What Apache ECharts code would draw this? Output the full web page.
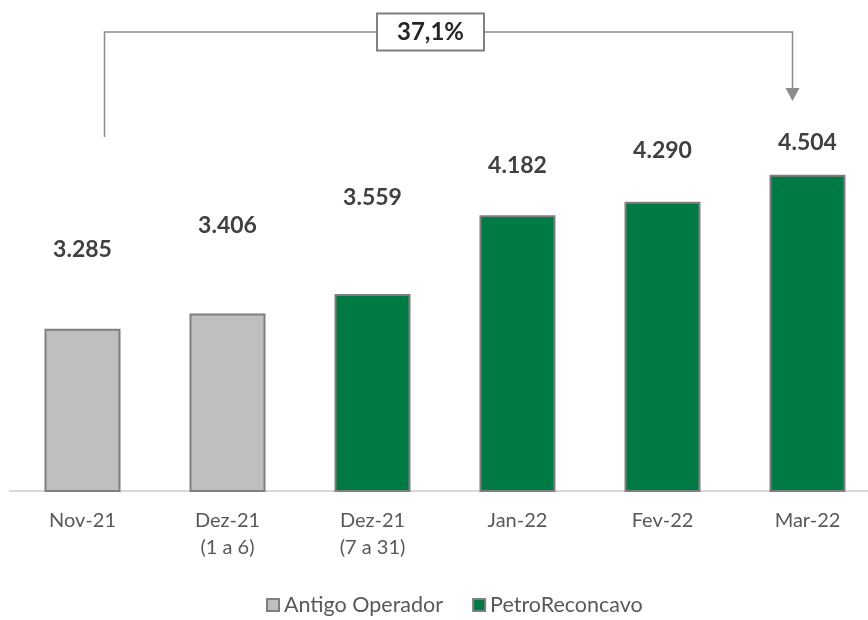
<!DOCTYPE html>
<html>
<head>
<meta charset="utf-8">
<script src="https://cdn.jsdelivr.net/npm/echarts@6/dist/echarts.min.js"></script>
<style>
  html, body { margin: 0; padding: 0; background: #fff; }
  #chart { width: 868px; height: 620px; }
</style>
</head>
<body>
<div id="chart"></div>
<script>
// data
const categories = ["Nov-21", "Dez-21\n(1 a 6)", "Dez-21\n(7 a 31)", "Jan-22", "Fev-22", "Mar-22"];
const antigoOperador = [3285, 3406, null, null, null, null];
const petroReconcavo = [null, null, 3559, 4182, 4290, 4504];
const seriesNames = ["Antigo Operador", "PetroReconcavo"];

// labels were hand-placed in the original, so each gets its own gap above the bar
const labelGap = [68, 76, 85, 38, 40, 21];

const FONT = "Lato, 'Open Sans', sans-serif";
const grey = "#bfbfbf";
const green = "#007a45";
const edge = "#7f7f7f";

const fmt = (v) => String(v).replace(/\B(?=(\d{3})+(?!\d))/g, ".");

const toItems = (arr) =>
  arr.map((v, i) =>
    v == null ? null : { value: v, label: { distance: labelGap[i] } }
  );

const chart = echarts.init(document.getElementById("chart"));

const barLabel = {
  show: true,
  position: "top",
  fontFamily: FONT,
  fontSize: 23,
  fontWeight: "bold",
  color: "#404040",
  formatter: (p) => fmt(p.value),
};

chart.setOption({
  animation: false,
  textStyle: { fontFamily: FONT },
  grid: { left: 10, width: 870, top: 112, bottom: 129, outerBoundsMode: "none" },
  legend: {
    bottom: -1,
    left: 261,
    icon: "rect",
    itemWidth: 12,
    itemHeight: 12,
    itemGap: 29,
    textStyle: { fontFamily: FONT, fontSize: 21.5, color: "#595959" },
    data: seriesNames,
  },
  xAxis: {
    type: "category",
    data: categories,
    axisTick: { show: false },
    axisLine: { lineStyle: { color: "#d9d9d9", width: 2 } },
    axisLabel: {
      fontFamily: FONT,
      fontSize: 20,
      color: "#595959",
      lineHeight: 27,
      margin: 16,
    },
  },
  yAxis: {
    type: "value",
    min: 2000,
    max: 5000,
    show: false,
    splitLine: { show: false },
  },
  series: [
    {
      name: seriesNames[0],
      type: "bar",
      stack: "v",
      barWidth: 76,
      data: toItems(antigoOperador),
      itemStyle: { color: grey, borderColor: edge, borderWidth: 2 },
      label: barLabel,
    },
    {
      name: seriesNames[1],
      type: "bar",
      stack: "v",
      barWidth: 76,
      data: toItems(petroReconcavo),
      itemStyle: { color: green, borderColor: edge, borderWidth: 2 },
      label: barLabel,
    },
  ],
});

// growth bracket from the first to the last month
const first = antigoOperador[0];
const last = petroReconcavo[petroReconcavo.length - 1];
const growth = ((last / first - 1) * 100).toFixed(1).replace(".", ",") + "%";

const xFirst = chart.convertToPixel({ xAxisIndex: 0 }, categories[0]) + 22;
const xLast = chart.convertToPixel({ xAxisIndex: 0 }, categories[categories.length - 1]) - 15;
const yTop = 32;
const boxW = 107, boxH = 37;
const boxX = (xFirst + xLast) / 2 - 18 - boxW / 2;
const lineStyle = { stroke: "#8c8c8c", lineWidth: 1.5 };

chart.setOption({
  graphic: [
    {
      type: "polyline",
      silent: true,
      shape: { points: [[xFirst, 137], [xFirst, yTop], [xLast, yTop], [xLast, 90]] },
      style: Object.assign({ fill: null }, lineStyle),
    },
    {
      type: "polygon",
      silent: true,
      shape: { points: [[xLast - 7, 88], [xLast + 7, 88], [xLast, 101]] },
      style: { fill: "#8c8c8c" },
    },
    {
      type: "rect",
      silent: true,
      shape: { x: boxX, y: yTop - boxH / 2, width: boxW, height: boxH },
      style: { fill: "#fff", stroke: "#7f7f7f", lineWidth: 2 },
    },
    {
      type: "text",
      silent: true,
      x: boxX + boxW / 2,
      y: yTop,
      style: {
        text: growth,
        fontFamily: FONT,
        fontSize: 24,
        fontWeight: "bold",
        fill: "#262626",
        align: "center",
        verticalAlign: "middle",
      },
    },
  ],
});
</script>
</body>
</html>
